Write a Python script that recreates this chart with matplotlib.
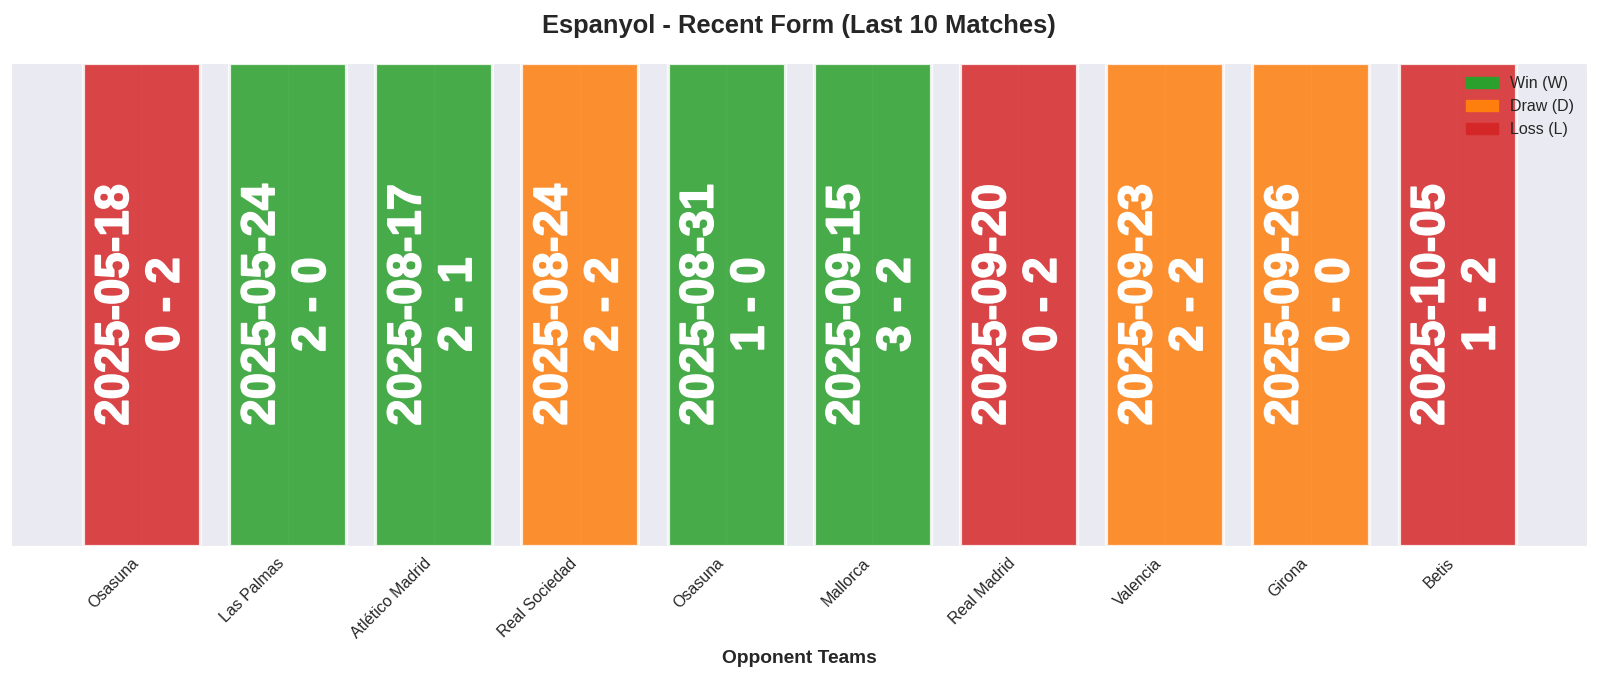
import matplotlib
matplotlib.use("Agg")
import matplotlib.pyplot as plt
import matplotlib.patheffects as pe
import seaborn as sns
from matplotlib.patches import Patch

sns.set_style("darkgrid")
plt.rcParams['font.family'] = ['Liberation Sans', 'DejaVu Sans']

# match data
opponents = ["Osasuna", "Las Palmas", "Atlético Madrid", "Real Sociedad", "Osasuna",
             "Mallorca", "Real Madrid", "Valencia", "Girona", "Betis"]
dates = ["2025-05-18", "2025-05-24", "2025-08-17", "2025-08-24", "2025-08-31",
         "2025-09-15", "2025-09-20", "2025-09-23", "2025-09-26", "2025-10-05"]
scores = ["0 - 2", "2 - 0", "2 - 1", "2 - 2", "1 - 0",
          "3 - 2", "0 - 2", "2 - 2", "0 - 0", "1 - 2"]
results = ["L", "W", "W", "D", "W", "W", "L", "D", "D", "L"]

colors = {"W": "#2ca02c", "D": "#ff7f0e", "L": "#d62728"}

fig, ax = plt.subplots(figsize=(16, 6.79), dpi=100)

x = list(range(len(opponents)))
bar_colors = [colors[r] for r in results]
ax.bar(x, [1] * len(x), color=bar_colors, alpha=0.85, edgecolor="white", linewidth=2.3, width=0.8)

# date and score inside each bar
for i in x:
    ax.text(i, 0.5, f"{dates[i]}\n{scores[i]}", rotation=90, ha="center", va="center",
            color="white", fontsize=34, fontweight="bold", family="Liberation Sans",
            path_effects=[pe.withStroke(linewidth=1.2, foreground="white")])

ax.set_ylim(0, 1)
ax.set_yticks([])
ax.set_xticks(x)
ax.set_xticklabels(opponents, rotation=45, ha="right", fontsize=11.5)
ax.set_xlabel("Opponent Teams", fontsize=13.8, fontweight="bold", labelpad=6)
ax.set_title("Espanyol - Recent Form (Last 10 Matches)", fontsize=18.4, fontweight="bold", pad=22)

handles = [Patch(color=colors["W"], label="Win (W)"),
           Patch(color=colors["D"], label="Draw (D)"),
           Patch(color=colors["L"], label="Loss (L)")]
ax.legend(handles=handles, loc="upper right", fontsize=11.5, frameon=False, borderaxespad=0.4)

plt.subplots_adjust(left=0.007, right=0.992, top=0.907, bottom=0.196)
fig.savefig("out.png", dpi=100)
